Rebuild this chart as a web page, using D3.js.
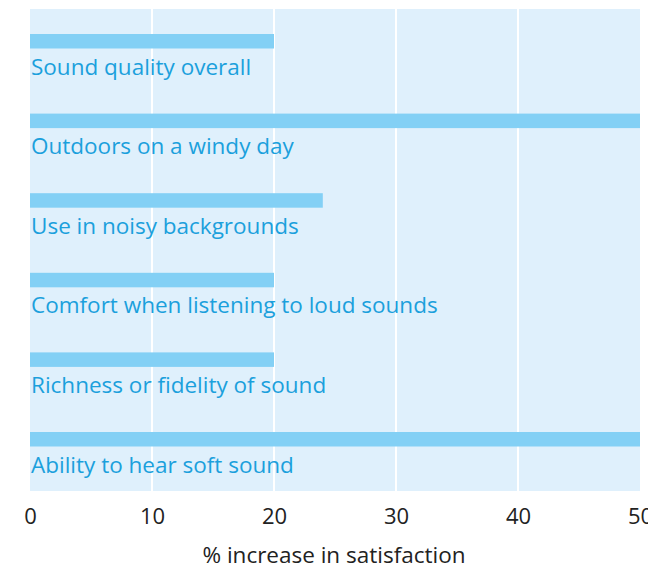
<!DOCTYPE html>
<html>
<head>
<meta charset="utf-8">
<script src="https://cdn.jsdelivr.net/npm/d3@7"></script>
<style>
	body { margin: 0; background: #ffffff; }
	svg { display: block; }
</style>
</head>
<body>
<script>
'use strict';

// Chart data
const categories = [
	"Sound quality overall",
	"Outdoors on a windy day",
	"Use in noisy backgrounds",
	"Comfort when listening to loud sounds",
	"Richness or fidelity of sound",
	"Ability to hear soft sound"
];
const increases = [20, 50, 24, 20, 20, 50];
const xTicks = [0, 10, 20, 30, 40, 50];
const xTitle = "% increase in satisfaction";

const width = 648, height = 570;
const plotLeft = 30, plotRight = 640, plotTop = 9, plotBottom = 491;
const fontFamily = "'Open Sans', 'Liberation Sans', sans-serif";

let svg = d3.select("body").append("svg")
	.attr("width", width)
	.attr("height", height);

let x = d3.scaleLinear()
	.domain([0, 50])
	.range([plotLeft, plotRight]);

// Bars start at y=34 and repeat every ~79.6px
let y = d3.scaleBand()
	.domain(categories)
	.range([34, 34 + 79.6 * categories.length]);

const barHeight = 14.5;

// Plot background
svg.append("rect")
	.attr("x", plotLeft)
	.attr("y", plotTop)
	.attr("width", plotRight - plotLeft)
	.attr("height", plotBottom - plotTop)
	.attr("fill", "#dff0fc");

// Vertical gridlines
svg.append("g")
	.selectAll("line")
	.data(xTicks.slice(1, -1))
	.enter()
	.append("line")
	.attr("x1", d => x(d))
	.attr("x2", d => x(d))
	.attr("y1", plotTop)
	.attr("y2", plotBottom)
	.attr("stroke", "#ffffff")
	.attr("stroke-width", 2);

// Bars
svg.append("g")
	.selectAll("rect")
	.data(categories)
	.enter()
	.append("rect")
	.attr("x", x(0))
	.attr("y", d => y(d))
	.attr("width", (d, i) => x(increases[i]) - x(0))
	.attr("height", barHeight)
	.attr("fill", "#83d0f5");

// Category labels under each bar
svg.append("g")
	.selectAll("text")
	.data(categories)
	.enter()
	.append("text")
	.attr("x", x(0) + 1)
	.attr("y", d => y(d) + barHeight + 26)
	.attr("fill", "#1ba0dc")
	.style("font-family", fontFamily)
	.style("font-size", "22.5px")
	.text(d => d);

// X axis (labels only)
let xAxis = d3.axisBottom(x)
	.tickValues(xTicks)
	.tickSize(0)
	.tickPadding(0)
	.tickFormat(d3.format("d"));

let axisG = svg.append("g")
	.attr("transform", "translate(0," + 508 + ")")
	.call(xAxis);
axisG.select(".domain").remove();
axisG.selectAll("text")
	.attr("fill", "#222222")
	.style("font-family", fontFamily)
	.style("font-size", "22px");

// Axis title
svg.append("text")
	.attr("x", (x(0) + x(50)) / 2 - 1)
	.attr("y", 563)
	.attr("text-anchor", "middle")
	.attr("fill", "#222222")
	.style("font-family", fontFamily)
	.style("font-size", "22.5px")
	.text(xTitle);
</script>
</body>
</html>
